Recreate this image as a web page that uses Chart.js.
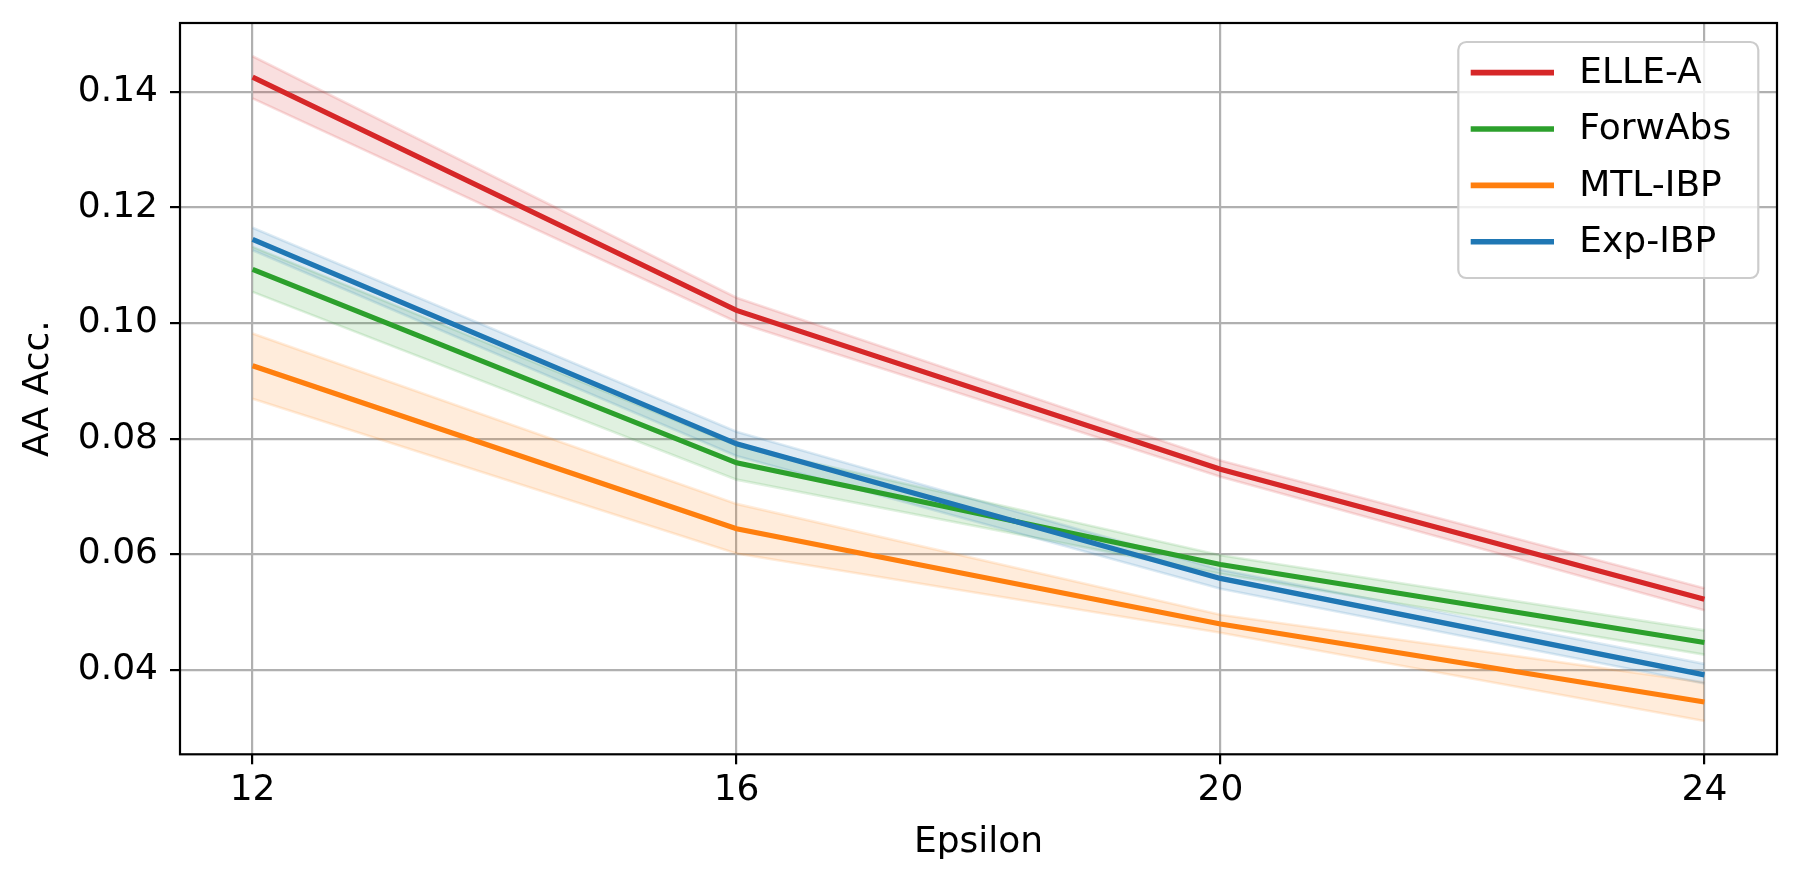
<!DOCTYPE html>
<html>
<head>
<meta charset="utf-8">
<script src="https://cdn.jsdelivr.net/npm/chart.js@4"></script>
<style>
  html, body { margin: 0; padding: 0; background: #ffffff; }
  canvas { display: block; }
</style>
</head>
<body>
<canvas id="c" width="1800" height="886"></canvas>
<script>
// ---- data ----
const epsilons = [12, 16, 20, 24];
const seriesNames = ['ELLE-A', 'ForwAbs', 'MTL-IBP', 'Exp-IBP'];
const seriesColors = ['#d62728', '#2ca02c', '#ff7f0e', '#1f77b4'];

const elleMean  = [0.1426, 0.1022, 0.0747, 0.0522];
const elleLow   = [0.1389, 0.1002, 0.0734, 0.0503];
const elleHigh  = [0.1462, 0.1044, 0.0762, 0.0541];

const forwMean  = [0.1093, 0.0758, 0.0582, 0.0447];
const forwLow   = [0.1054, 0.0729, 0.0566, 0.0426];
const forwHigh  = [0.1132, 0.0788, 0.0598, 0.0468];

const mtlMean   = [0.0926, 0.0644, 0.0479, 0.0344];
const mtlLow    = [0.0869, 0.0601, 0.0464, 0.0311];
const mtlHigh   = [0.0982, 0.0687, 0.0495, 0.0378];

const expMean   = [0.1145, 0.0791, 0.0558, 0.0391];
const expLow    = [0.1126, 0.0770, 0.0540, 0.0376];
const expHigh   = [0.1165, 0.0812, 0.0573, 0.0410];

const xTicks = [12, 16, 20, 24];
const xTickLabels = ['12', '16', '20', '24'];
const yTicks = [0.04, 0.06, 0.08, 0.10, 0.12, 0.14];
const yTickLabels = ['0.04', '0.06', '0.08', '0.10', '0.12', '0.14'];

const xTitle = 'Epsilon';
const yTitle = 'AA Acc.';

// ---- build ----
const means = [elleMean, forwMean, mtlMean, expMean];
const lows  = [elleLow, forwLow, mtlLow, expLow];
const highs = [elleHigh, forwHigh, mtlHigh, expHigh];

function rgba(hex, a) {
  const n = parseInt(hex.slice(1), 16);
  return `rgba(${(n >> 16) & 255},${(n >> 8) & 255},${n & 255},${a})`;
}
const pts = arr => arr.map((v, i) => ({ x: epsilons[i], y: v }));

// matplotlib-like 5% margins
const allLow = Math.min(...lows.flat(), ...means.flat());
const allHigh = Math.max(...highs.flat(), ...means.flat());
const ySpan = allHigh - allLow;
const yMin = allLow - 0.05 * ySpan, yMax = allHigh + 0.05 * ySpan;
const xSpan = epsilons[epsilons.length - 1] - epsilons[0];
const xMin = epsilons[0] - 0.05 * xSpan, xMax = epsilons[epsilons.length - 1] + 0.05 * xSpan;

const datasets = [];
seriesNames.forEach((name, s) => {
  const col = seriesColors[s];
  datasets.push({
    label: name + ' upper', data: pts(highs[s]), fill: '+1',
    backgroundColor: rgba(col, 0.15), borderColor: rgba(col, 0.15),
    borderWidth: 2.6, pointRadius: 0, tension: 0, order: 20 - s, isBand: true
  });
  datasets.push({
    label: name + ' lower', data: pts(lows[s]), fill: false,
    backgroundColor: rgba(col, 0.15), borderColor: rgba(col, 0.15),
    borderWidth: 2.6, pointRadius: 0, tension: 0, order: 20 - s, isBand: true
  });
});
seriesNames.forEach((name, s) => {
  datasets.push({
    label: name, data: pts(means[s]), fill: false,
    borderColor: seriesColors[s], backgroundColor: seriesColors[s],
    borderWidth: 5.2, pointRadius: 0, tension: 0, order: 10 - s
  });
});

const FONT = '"DejaVu Sans", "Liberation Sans", sans-serif';

const framePlugin = {
  id: 'frame',
  afterDatasetsDraw(chart) {
    const { ctx, chartArea: a } = chart;
    ctx.save();
    ctx.strokeStyle = '#000000';
    ctx.lineWidth = 2.2;
    ctx.strokeRect(a.left, a.top, a.right - a.left, a.bottom - a.top);
    ctx.restore();
  }
};

const legendPlugin = {
  id: 'mplLegend',
  afterDraw(chart) {
    const { ctx, chartArea: a } = chart;
    const w = 300, h = 236;
    const bx = a.right - 18.7 - w, by = a.top + 19;
    ctx.save();
    ctx.beginPath();
    ctx.roundRect(bx, by, w, h, 8);
    ctx.fillStyle = 'rgba(255,255,255,0.8)';
    ctx.fill();
    ctx.strokeStyle = '#cccccc';
    ctx.lineWidth = 2.2;
    ctx.stroke();
    ctx.font = '36px ' + FONT;
    ctx.textBaseline = 'middle';
    ctx.textAlign = 'left';
    seriesNames.forEach((name, i) => {
      const y = by + 30.6 + i * 56.4;
      ctx.beginPath();
      ctx.moveTo(bx + 12.4, y);
      ctx.lineTo(bx + 95.7, y);
      ctx.strokeStyle = seriesColors[i];
      ctx.lineWidth = 5.6;
      ctx.stroke();
      ctx.fillStyle = '#000000';
      ctx.fillText(name, bx + 121, y + 1);
    });
    ctx.restore();
  }
};

new Chart(document.getElementById('c'), {
  type: 'line',
  data: { datasets },
  options: {
    responsive: false,
    animation: false,
    devicePixelRatio: 1,
    layout: { padding: { top: 23, right: 23, left: 0, bottom: 0 } },
    plugins: {
      legend: { display: false },
      tooltip: { enabled: false },
      filler: { propagate: false }
    },
    scales: {
      x: {
        type: 'linear', min: xMin, max: xMax,
        afterBuildTicks: sc => { sc.ticks = xTicks.map(v => ({ value: v })); },
        afterFit: sc => { sc.height = 131.7; sc.paddingLeft = 0; sc.paddingRight = 0; },
        ticks: {
          callback: (v) => { const i = xTicks.indexOf(v); return i >= 0 ? xTickLabels[i] : ''; },
          font: { family: FONT, size: 36 }, color: '#000000', padding: 5, maxRotation: 0, autoSkip: false
        },
        grid: { color: '#b0b0b0', lineWidth: 2.2, tickColor: '#000000', tickWidth: 2.2, tickLength: 10 },
        border: { display: false },
        title: { display: true, text: xTitle, font: { family: FONT, size: 36 }, color: '#000000', padding: { top: 0, bottom: 22 } }
      },
      y: {
        type: 'linear', min: yMin, max: yMax,
        afterBuildTicks: sc => { sc.ticks = yTicks.map(v => ({ value: v })); },
        afterFit: sc => { sc.width = 180; sc.paddingTop = 0; sc.paddingBottom = 0; },
        ticks: {
          callback: (v) => { const i = yTicks.findIndex(t => Math.abs(t - v) < 1e-9); return i >= 0 ? yTickLabels[i] : ''; },
          font: { family: FONT, size: 36 }, color: '#000000', padding: 12, autoSkip: false
        },
        grid: { color: '#b0b0b0', lineWidth: 2.2, tickColor: '#000000', tickWidth: 2.2, tickLength: 10 },
        border: { display: false },
        title: { display: true, text: yTitle, font: { family: FONT, size: 36 }, color: '#000000', padding: { top: 17, bottom: 0 } }
      }
    }
  },
  plugins: [framePlugin, legendPlugin]
});
</script>
</body>
</html>
